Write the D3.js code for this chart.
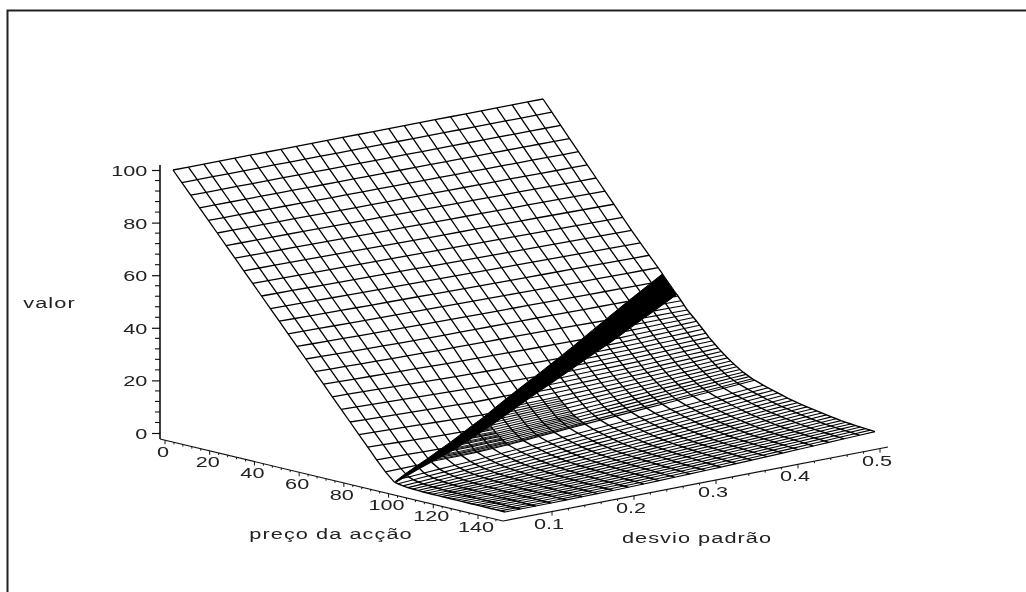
<!DOCTYPE html>
<html>
<head>
<meta charset="utf-8">
<script src="https://cdn.jsdelivr.net/npm/d3@7"></script>
<style>
  html, body { margin: 0; padding: 0; background: #fff; }
  svg { display: block; }
  text { font-family: "Liberation Sans", Arial, sans-serif; fill: #222; }
</style>
</head>
<body>
<svg width="1026" height="592"></svg>
<script>
// Stations the surface was read at from the picture
const sigmaStations = [0.05, 0.1, 0.15, 0.2, 0.3, 0.4, 0.5];
const priceStations = [0, 20, 40, 55, 60, 65, 70, 75, 80, 85, 90, 95, 100, 105, 110, 115, 120, 125, 130, 135, 140, 145, 150];
// one row per price, one column per sigma station
const valueRows = [
  [100, 100, 100, 100, 100, 100, 100],
  [80, 79.9, 79.8, 79.6, 79.4, 79.2, 78.9],
  [60, 59.8, 59.5, 59.3, 58.8, 58.4, 57.9],
  [45, 44.7, 44.4, 44.2, 43.8, 43.4, 43.2],
  [40, 39.6, 39.3, 39, 38.8, 38.5, 38.2],
  [35, 34.6, 34.3, 34, 33.7, 33.2, 32.8],
  [30, 29.6, 29.2, 28.7, 28.1, 27.8, 28.7],
  [25, 24.6, 24.1, 23.6, 23.1, 23.5, 24.2],
  [20, 19.5, 19, 18.5, 18.6, 19.2, 20.3],
  [15, 14.5, 14, 13.5, 14.3, 15.5, 17],
  [10, 9.5, 9, 9, 10.4, 12.5, 14.2],
  [5, 5, 4.9, 5.6, 8, 10.1, 12.2],
  [1.1, 2.2, 3.2, 4.3, 6.5, 8.6, 10.8],
  [0.3, 1.2, 2.1, 3.2, 5.3, 7.4, 9.6],
  [0.1, 0.7, 1.4, 2.4, 4.3, 6.3, 8.4],
  [0, 0.4, 1.1, 1.8, 3.5, 5.4, 7.4],
  [0, 0.3, 0.8, 1.4, 2.9, 4.7, 6.6],
  [0, 0.2, 0.6, 1.1, 2.5, 4, 5.9],
  [0, 0.1, 0.5, 0.9, 2.2, 3.5, 5.2],
  [0, 0.1, 0.4, 0.7, 1.9, 3.2, 4.6],
  [0, 0.1, 0.3, 0.6, 1.6, 2.9, 4.2],
  [0, 0, 0.2, 0.5, 1.4, 2.6, 3.9],
  [0, 0, 0.2, 0.4, 1.2, 2.3, 3.6]
];

// Mesh levels counted in the picture
const sigmaMesh = [0.05, 0.06875, 0.0875, 0.10625, 0.125, 0.14375, 0.1625, 0.18125, 0.2, 0.21875, 0.2375, 0.25625, 0.275,
  0.29375, 0.3125, 0.33125, 0.35, 0.36875, 0.3875, 0.40625, 0.425, 0.44375, 0.4625, 0.48125, 0.5];
const planePrices = [0, 4, 8, 12, 16, 20, 24, 28, 32, 36, 40, 44, 48, 52, 56, 60, 64, 68, 72, 76, 80, 84, 88, 92, 96];
const wedgePrices = [61, 62.4, 63.8, 65.2, 66.6, 68, 69.4, 70.8, 72.2, 73.6, 75, 76.4, 77.8, 79.2, 80.6, 82, 83.4, 84.8,
  86.2, 87.6, 89, 90.4, 91.8, 93.2, 94.6, 95.6];
const flatPrices = [99.5, 101.7, 103.9, 106.1, 108.3, 110.5, 112.7, 114.9, 117.1, 119.3, 121.5, 123.7, 125.9, 128.1,
  130.3, 132.5, 134.7, 136.9, 139.1, 141.3, 143.5, 145.7, 147.9, 150];
// extra rows of the dense patch near the apex, and the sigma where each one stops
const densePrices = [84.1, 85.5, 86.9, 88.3, 89.7, 91.1, 92.5, 93.9, 95.1, 87.25, 88.65, 90.05, 91.45, 92.85, 94.25];
const denseEnds = [0.3, 0.3, 0.3, 0.3, 0.3, 0.3, 0.3, 0.3, 0.3, 0.2, 0.2, 0.2, 0.2, 0.2, 0.2];

// Black band: price on its two edges
const bandSigmas = [0.05, 0.15, 0.5];
const bandUpper = [100, 89.8, 54];
const bandLower = [100.5, 92.3, 60.5];

const zTicks = [0, 20, 40, 60, 80, 100];
const zMinor = [4, 8, 12, 16, 24, 28, 32, 36, 44, 48, 52, 56, 64, 68, 72, 76, 84, 88, 92, 96];
const priceTicks = [0, 20, 40, 60, 80, 100, 120, 140];
const priceMinor = [4, 8, 12, 16, 24, 28, 32, 36, 44, 48, 52, 56, 64, 68, 72, 76, 84, 88, 92, 96, 104, 108, 112, 116, 124, 128, 132, 136, 144, 148];
const sigmaTicks = [0.1, 0.2, 0.3, 0.4, 0.5];
const sigmaMinor = [0.12, 0.14, 0.16, 0.18, 0.22, 0.24, 0.26, 0.28, 0.32, 0.34, 0.36, 0.38, 0.42, 0.44, 0.46, 0.48];

const svg = d3.select("svg");

svg.append("defs").append("filter").attr("id", "soft")
  .append("feGaussianBlur").attr("stdDeviation", 0.35);

// Oblique projection of the box
const xFromPrice = d3.scaleLinear().domain([0, 150]).range([0, 332]);
const yFromPrice = d3.scaleLinear().domain([0, 150]).range([0, 81]);
const xFromSigma = d3.scaleLinear().domain([0.05, 0.5]).range([173, 543]);
const yFromSigma = d3.scaleLinear().domain([0.05, 0.5]).range([0, -71]);
const yFromValue = d3.scaleLinear().domain([0, 100]).range([431, 170]);

const project = (p, s, z) => [
  xFromSigma(s) + xFromPrice(p),
  yFromValue(z) + yFromPrice(p) + yFromSigma(s)
];

// Surface lookup: mesh nodes between read stations go through d3 scales
const columnScales = sigmaStations.map((_, j) =>
  d3.scaleLinear().domain(priceStations).range(valueRows.map(r => r[j])));
const valueAt = (p, s) => {
  const across = d3.scaleLinear().domain(sigmaStations).range(columnScales.map(c => c(p)));
  return across(s);
};

const upperAt = d3.scaleLinear().domain(bandSigmas).range(bandUpper);
const lowerAt = d3.scaleLinear().domain(bandSigmas).range(bandLower);
const sigmaOnUpper = d3.scaleLinear().domain(bandUpper).range(bandSigmas).clamp(true);
const sigmaOnLower = d3.scaleLinear().domain(bandLower).range(bandSigmas).clamp(true);

const line = d3.line();
const node = (p, s) => project(p, s, valueAt(p, s));

const surface = svg.append("g").attr("filter", "url(#soft)").attr("fill", "none").attr("stroke", "#000");

// plane part, left of the band
const planeRows = planePrices.map(p => {
  const end = Math.min(0.5, sigmaOnUpper(p));
  return [...sigmaMesh.filter(s => s < end), end].map(s => node(p, s));
});
const planeCols = sigmaMesh.map(s => {
  const end = upperAt(s);
  return [...planePrices.filter(p => p < end), end].map(p => node(p, s));
});
surface.selectAll(".plane").data([...planeRows, ...planeCols]).join("path")
  .attr("class", "plane").attr("stroke-width", 1.3).attr("d", line);

// the black band
const bandEdge = (at) => sigmaMesh.map(s => node(at(s), s));
surface.append("path")
  .attr("d", line([...bandEdge(upperAt), ...bandEdge(lowerAt).reverse()]) + "Z")
  .attr("fill", "#000").attr("stroke-width", 1);

// right part: rows of constant price
const rowPrices = [...wedgePrices, ...flatPrices];
const rows = rowPrices.map(p => {
  const start = sigmaOnLower(p);
  return [start, ...sigmaMesh.filter(s => s > start)].map(s => node(p, s));
});
surface.selectAll(".row").data(rows).join("path")
  .attr("class", "row").attr("stroke-width", 1.1).attr("d", line);

const dense = densePrices.map((p, i) => {
  const start = sigmaOnLower(p);
  return [start, ...sigmaMesh.filter(s => s > start && s <= denseEnds[i])].map(s => node(p, s));
});
surface.selectAll(".dense").data(dense).join("path")
  .attr("class", "dense").attr("stroke-width", 0.9).attr("d", line);

const cols = sigmaMesh.map(s => {
  const start = lowerAt(s);
  return [start, ...rowPrices.filter(p => p > start)].map(p => node(p, s));
});
surface.selectAll(".col").data(cols).join("path")
  .attr("class", "col").attr("stroke-width", 1.4).attr("d", line);

// Axes and frame
const axes = svg.append("g").attr("filter", "url(#soft)");
const ink = "#111";

axes.append("path").attr("d", "M7.5,592V10.5H1026").attr("fill", "none").attr("stroke", "#222").attr("stroke-width", 2);

// value axis
const zScale = d3.scaleLinear().domain([0, 100]).range([433, 170]);
const zAxis = axes.append("g").attr("transform", "translate(160,0)")
  .call(d3.axisLeft(zScale).tickValues(zTicks).tickSize(8).tickSizeOuter(0).tickFormat(d3.format("d")));
zAxis.select(".domain").remove();
zAxis.selectAll("line").attr("stroke", ink).attr("stroke-width", 1.2);
zAxis.selectAll("text").attr("fill", null)
  .attr("x", -9).attr("dy", "0.36em").attr("transform", "scale(1.4,1)")
  .style("font-family", '"Liberation Sans", sans-serif').style("font-size", "15.5px");
axes.append("line").attr("x1", 160).attr("x2", 160).attr("y1", 165).attr("y2", 439).attr("stroke", ink).attr("stroke-width", 1.6);
axes.selectAll(".zminor").data(zMinor).join("line").attr("class", "zminor")
  .attr("x1", 155).attr("x2", 160).attr("y1", zScale).attr("y2", zScale).attr("stroke", ink).attr("stroke-width", 1.1);

// price axis
const priceX = d3.scaleLinear().domain([0, 140]).range([165, 478]);
const axisY = x => 439 + (x - 160) * 0.239;
axes.append("line").attr("x1", 160).attr("y1", 439).attr("x2", 503).attr("y2", 521).attr("stroke", ink).attr("stroke-width", 1.2);
axes.selectAll(".pminor").data(priceMinor).join("line").attr("class", "pminor")
  .attr("x1", d => priceX(d)).attr("x2", d => priceX(d))
  .attr("y1", d => axisY(priceX(d))).attr("y2", d => axisY(priceX(d)) + 2).attr("stroke", ink);
axes.selectAll(".pmajor").data(priceTicks).join("line").attr("class", "pmajor")
  .attr("x1", d => priceX(d)).attr("x2", d => priceX(d))
  .attr("y1", d => axisY(priceX(d))).attr("y2", d => axisY(priceX(d)) + 4).attr("stroke", ink);

// sigma axis
const sigmaX = d3.scaleLinear().domain([0.1, 0.5]).range([552, 880]);
const sigmaY = x => 521 - (x - 503) * 0.192;
axes.append("line").attr("x1", 503).attr("y1", 521).attr("x2", 888).attr("y2", 447).attr("stroke", ink).attr("stroke-width", 1.2);
axes.selectAll(".sminor").data(sigmaMinor).join("line").attr("class", "sminor")
  .attr("x1", d => sigmaX(d)).attr("x2", d => sigmaX(d))
  .attr("y1", d => sigmaY(sigmaX(d))).attr("y2", d => sigmaY(sigmaX(d)) + 2).attr("stroke", ink);
axes.selectAll(".smajor").data(sigmaTicks).join("line").attr("class", "smajor")
  .attr("x1", d => sigmaX(d)).attr("x2", d => sigmaX(d))
  .attr("y1", d => sigmaY(sigmaX(d))).attr("y2", d => sigmaY(sigmaX(d)) + 4).attr("stroke", ink);

// wide labels, like the original's stretched type
const wide = (x, y, txt) => axes.append("text")
  .attr("transform", `translate(${x},${y}) scale(1.5,1)`)
  .attr("text-anchor", "middle").attr("dy", "0.36em").attr("letter-spacing", 0.7)
  .style("font-size", "14.5px").text(txt);

axes.selectAll(".plabel").data(priceTicks).join("text").attr("class", "plabel")
  .attr("transform", d => `translate(${priceX(d) - 2},${axisY(priceX(d)) + 11}) scale(1.4,1)`)
  .attr("text-anchor", "middle").attr("dy", "0.36em").style("font-size", "15.5px").text(d => d);
axes.selectAll(".slabel").data(sigmaTicks).join("text").attr("class", "slabel")
  .attr("transform", d => `translate(${sigmaX(d) - 3},${sigmaY(sigmaX(d)) + 11.5}) scale(1.4,1)`)
  .attr("text-anchor", "middle").attr("dy", "0.36em").style("font-size", "15.5px").text(d => d);

wide(49.5, 303, "valor");
wide(331, 534, "preço da acção");
wide(697, 538, "desvio padrão");
</script>
</body>
</html>
